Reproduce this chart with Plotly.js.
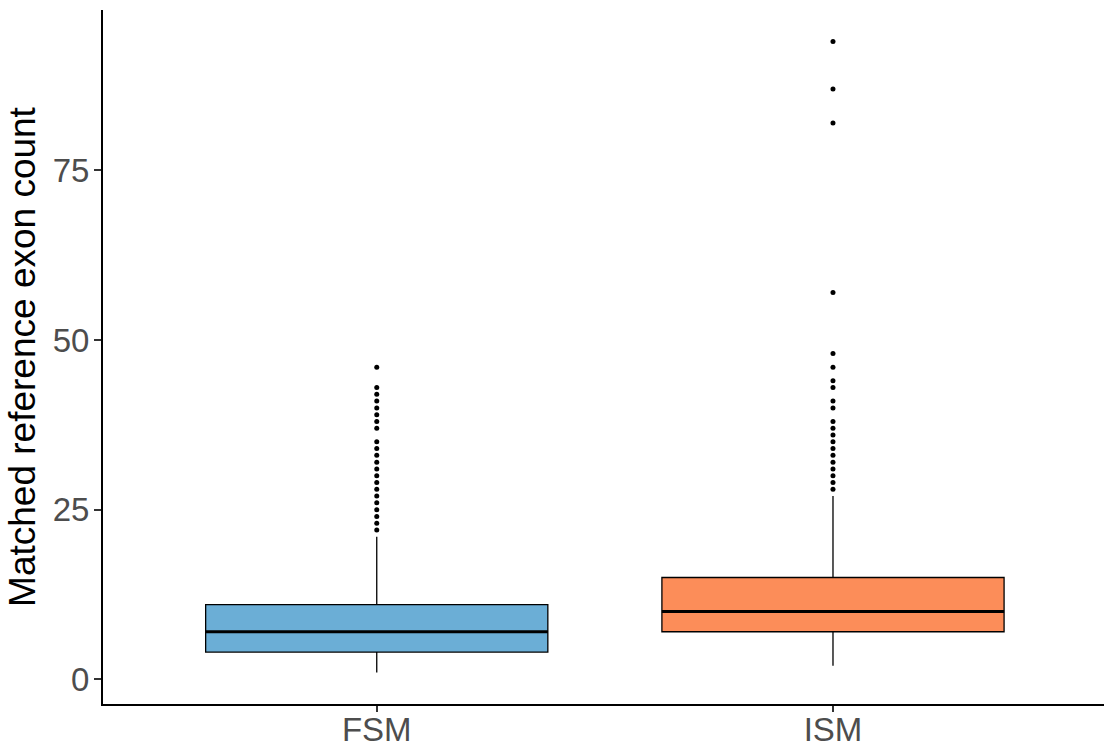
<!DOCTYPE html>
<html>
<head>
<meta charset="utf-8">
<script src="https://cdn.plot.ly/plotly-3.0.1.min.js"></script>
<style>html,body{margin:0;padding:0;background:#fff;}#chart{width:1104px;height:747px;}</style>
</head>
<body>
<div id="chart"></div>
<script>
const categories = ["FSM", "ISM"];
const q1 = [4, 7];
const median = [7, 10];
const q3 = [11, 15];
const lowerWhisker = [1, 2];
const upperWhisker = [21, 27];
const fillColors = ["#6BAED6", "#FC8D59"];
const outliersFSM = [22,23,24,25,26,27,28,29,30,31,32,33,34,35,37,38,39,40,41,42,43,46];
const outliersISM = [28,29,30,31,32,33,34,35,36,37,38,40,41,43,44,46,48,57,82,87,94];
const outlierSets = [outliersFSM, outliersISM];
const yTickVals = [0, 25, 50, 75];
const yTitle = "Matched reference exon count";

const boxWidth = 0.75;
const traces = [];
categories.forEach((c, i) => {
  traces.push({
    type: "box",
    x: [i],
    q1: [q1[i]], median: [median[i]], q3: [q3[i]],
    lowerfence: [lowerWhisker[i]], upperfence: [upperWhisker[i]],
    width: boxWidth,
    fillcolor: fillColors[i],
    line: {color: "#000000", width: 1.3},
    whiskerwidth: 0,
    boxpoints: false,
    hoverinfo: "skip",
    showlegend: false
  });
  traces.push({
    type: "scatter", mode: "lines",
    x: [i - boxWidth / 2, i + boxWidth / 2],
    y: [median[i], median[i]],
    line: {color: "#000000", width: 3},
    hoverinfo: "skip", showlegend: false
  });
  traces.push({
    type: "scatter", mode: "markers",
    x: outlierSets[i].map(() => i),
    y: outlierSets[i],
    marker: {color: "#000000", size: 5},
    hoverinfo: "skip", showlegend: false
  });
});

const layout = {
  width: 1104, height: 747,
  margin: {l: 103, r: 0, t: 10, b: 43},
  paper_bgcolor: "#ffffff", plot_bgcolor: "#ffffff",
  font: {family: "Liberation Sans, Arial, sans-serif"},
  showlegend: false,
  xaxis: {
    range: [-0.6, 1.594],
    tickvals: [0, 1], ticktext: categories,
    showgrid: false, zeroline: false,
    showline: true, linecolor: "#000000", linewidth: 2,
    ticks: "outside", ticklen: 6, tickwidth: 2, tickcolor: "#333333",
    ticklabelstandoff: -11,
    tickfont: {size: 33, color: "#4D4D4D"}
  },
  yaxis: {
    range: [-3.65, 98.65],
    tickvals: yTickVals,
    showgrid: false, zeroline: false,
    showline: true, linecolor: "#000000", linewidth: 2,
    ticks: "outside", ticklen: 7, tickwidth: 2, tickcolor: "#333333",
    ticklabelstandoff: -2,
    tickfont: {size: 33, color: "#4D4D4D"},
    title: {text: yTitle, font: {size: 37, color: "#000000"}, standoff: 6}
  }
};

Plotly.newPlot("chart", traces, layout, {displayModeBar: false, staticPlot: true});
</script>
</body>
</html>
